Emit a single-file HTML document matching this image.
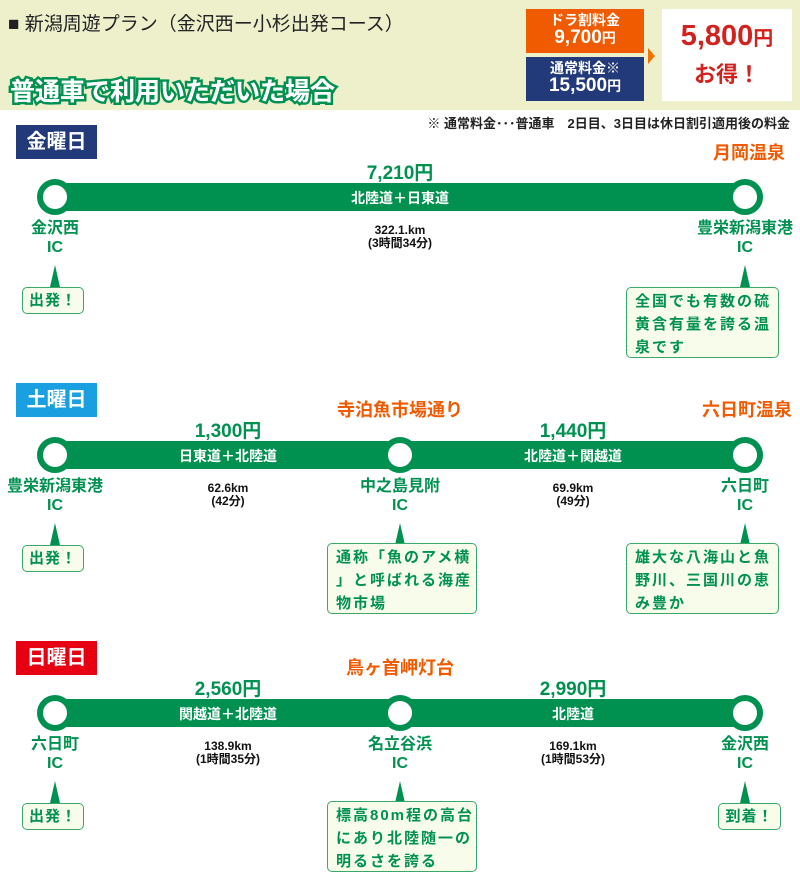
<!DOCTYPE html>
<html><head><meta charset="utf-8"><style>
*{margin:0;padding:0;box-sizing:border-box}
body{width:800px;height:889px;background:#fff;position:relative;overflow:hidden;font-family:"Liberation Sans","Noto Sans CJK JP",sans-serif}
.a{position:absolute}
.c{position:absolute;transform:translateX(-50%);text-align:center;white-space:nowrap}
.bar{position:absolute;left:55px;width:690px;height:28px;background:#009150;color:#fff;font-weight:bold;font-size:14px}
.circ{position:absolute;width:36px;height:36px;border-radius:50%;background:#fff;border:6px solid #009150;transform:translate(-50%,-50%)}
.day{position:absolute;left:16px;width:81px;height:34px;color:#fff;font-weight:bold;font-size:20px;line-height:34px;text-align:center}
.price{color:#009150;font-weight:bold;font-size:19px}
.st{color:#009150;font-weight:bold;font-size:16px;line-height:19px}
.dist{color:#111;font-weight:bold;font-size:12px;line-height:13px}
.lm{color:#f05a00;font-weight:bold;font-size:18px}
.tri{position:absolute;width:0;height:0;border-left:5px solid transparent;border-right:5px solid transparent;border-bottom:22px solid #009150;transform:translateX(-50%)}
.box{position:absolute;background:#f7fdea;border:1.5px solid #3aa86a;border-radius:5px;color:#009150;font-weight:bold;font-size:15px;line-height:23px;padding:2px 0 0 8px;letter-spacing:2px;white-space:nowrap;overflow:hidden}
.sm{text-align:center;padding:0;line-height:25px;letter-spacing:1px;font-size:15px}
</style></head><body>
<div class="a" style="left:0;top:0;width:800px;height:110px;background:#eef0cc"></div>
<div class="a" style="left:8px;top:9px;font-size:19px;color:#222">■ 新潟周遊プラン（金沢西ー小杉出発コース）</div>
<div class="a" style="left:10px;top:72px;font-size:25px;font-weight:bold;color:#fff;-webkit-text-stroke:5px #009150;paint-order:stroke fill">普通車で利用いただいた場合</div>
<div class="a" style="left:10px;top:72px;font-size:25px;font-weight:bold;color:#fff">普通車で利用いただいた場合</div>
<div class="a" style="left:526px;top:9px;width:118px;height:44px;background:#f05a00;color:#fff;text-align:center;font-weight:bold;font-size:14px;line-height:17px;padding-top:3px">ドラ割料金<br><span style="font-size:19px">9,700</span>円</div>
<div class="a" style="left:526px;top:57px;width:118px;height:44px;background:#233a7a;color:#fff;text-align:center;font-weight:bold;font-size:14px;line-height:17px;padding-top:3px">通常料金※<br><span style="font-size:19px">15,500</span>円</div>
<div class="a" style="left:648px;top:48px;width:0;height:0;border-top:8px solid transparent;border-bottom:8px solid transparent;border-left:7px solid #f07000"></div>
<div class="a" style="left:662px;top:9px;width:130px;height:92px;background:#fff;color:#d2221e;text-align:center;font-weight:bold;line-height:34px;padding-top:10px"><span style="font-size:29px">5,800</span><span style="font-size:20px">円</span><br><span style="font-size:22px">お得！</span></div>
<div class="a" style="right:10px;top:113px;font-size:13px;font-weight:bold;color:#222">※ 通常料金･･･普通車　2日目、3日目は休日割引適用後の料金</div>

<div class="day" style="top:125px;background:#233a7a">金曜日</div>
<div class="c price" style="left:400px;top:158px">7,210円</div>
<div class="a lm" style="right:15px;top:139px">月岡温泉</div>
<div class="bar" style="top:183px"><div class="c" style="left:345px;top:5px">北陸道＋日東道</div></div>
<div class="circ" style="left:55px;top:197px"></div><div class="circ" style="left:745px;top:197px"></div>
<div class="c st" style="left:55px;top:219px">金沢西<br>IC</div>
<div class="c st" style="left:745px;top:219px">豊栄新潟東港<br>IC</div>
<div class="c dist" style="left:400px;top:224px">322.1.km<br>(3時間34分)</div>
<div class="tri" style="left:55px;top:265px"></div><div class="tri" style="left:745px;top:265px"></div>
<div class="box sm" style="left:22px;top:287px;width:62px;height:27px">出発！</div>
<div class="box" style="left:626px;top:287px;width:153px;height:71px">全国でも有数の硫<br>黄含有量を誇る温<br>泉です</div>

<div class="day" style="top:383px;background:#1aa0e0">土曜日</div>
<div class="c lm" style="left:400px;top:396px">寺泊魚市場通り</div>
<div class="a lm" style="right:8px;top:396px">六日町温泉</div>
<div class="c price" style="left:228px;top:416px">1,300円</div>
<div class="c price" style="left:573px;top:416px">1,440円</div>
<div class="bar" style="top:441px"><div class="c" style="left:173px;top:5px">日東道＋北陸道</div><div class="c" style="left:518px;top:5px">北陸道＋関越道</div></div>
<div class="circ" style="left:55px;top:455px"></div><div class="circ" style="left:400px;top:455px"></div><div class="circ" style="left:745px;top:455px"></div>
<div class="c st" style="left:55px;top:477px">豊栄新潟東港<br>IC</div>
<div class="c st" style="left:400px;top:477px">中之島見附<br>IC</div>
<div class="c st" style="left:745px;top:477px">六日町<br>IC</div>
<div class="c dist" style="left:228px;top:482px">62.6km<br>(42分)</div>
<div class="c dist" style="left:573px;top:482px">69.9km<br>(49分)</div>
<div class="tri" style="left:55px;top:523px"></div><div class="tri" style="left:400px;top:523px"></div><div class="tri" style="left:745px;top:523px"></div>
<div class="box sm" style="left:22px;top:545px;width:62px;height:27px">出発！</div>
<div class="box" style="left:327px;top:543px;width:150px;height:71px">通称「魚のアメ横<br>」と呼ばれる海産<br>物市場</div>
<div class="box" style="left:626px;top:543px;width:153px;height:71px">雄大な八海山と魚<br>野川、三国川の恵<br>み豊か</div>

<div class="day" style="top:641px;background:#e60012">日曜日</div>
<div class="c lm" style="left:400px;top:654px">鳥ヶ首岬灯台</div>
<div class="c price" style="left:228px;top:674px">2,560円</div>
<div class="c price" style="left:573px;top:674px">2,990円</div>
<div class="bar" style="top:699px"><div class="c" style="left:173px;top:5px">関越道＋北陸道</div><div class="c" style="left:518px;top:5px">北陸道</div></div>
<div class="circ" style="left:55px;top:713px"></div><div class="circ" style="left:400px;top:713px"></div><div class="circ" style="left:745px;top:713px"></div>
<div class="c st" style="left:55px;top:735px">六日町<br>IC</div>
<div class="c st" style="left:400px;top:735px">名立谷浜<br>IC</div>
<div class="c st" style="left:745px;top:735px">金沢西<br>IC</div>
<div class="c dist" style="left:228px;top:740px">138.9km<br>(1時間35分)</div>
<div class="c dist" style="left:573px;top:740px">169.1km<br>(1時間53分)</div>
<div class="tri" style="left:55px;top:781px"></div><div class="tri" style="left:400px;top:781px"></div><div class="tri" style="left:745px;top:781px"></div>
<div class="box sm" style="left:22px;top:803px;width:62px;height:27px">出発！</div>
<div class="box" style="left:327px;top:801px;width:150px;height:71px">標高80m程の高台<br>にあり北陸随一の<br>明るさを誇る</div>
<div class="box sm" style="left:718px;top:803px;width:63px;height:27px">到着！</div>
</body></html>
